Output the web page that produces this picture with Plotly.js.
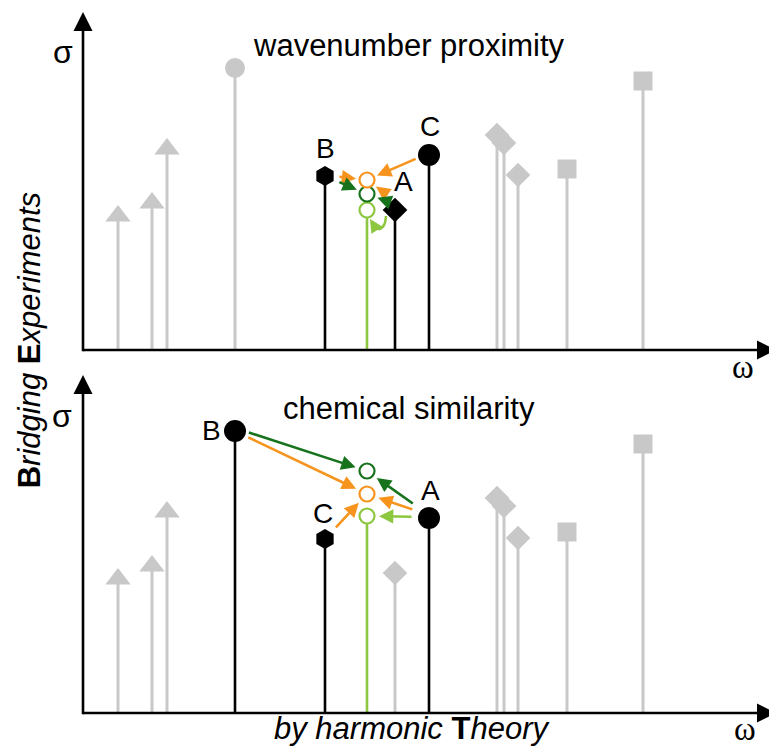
<!DOCTYPE html>
<html><head><meta charset="utf-8">
<script src="https://cdn.plot.ly/plotly-3.0.1.min.js"></script>
<style>html,body{margin:0;padding:0;background:#fff}</style>
</head><body><div id="chart" style="width:769px;height:746px"></div>
<script>
// Experimental peaks (ω = wavenumber, σ = intensity), identical in both panels
const triOmega = [35, 69, 84];
const triSigma = [134, 147, 201];
const pk1Omega = 152, pk1Sigma = 282;   // grey circle (top) / B (bottom)
const pk2Omega = 242, pk2Sigma = 174;   // B (top) / C (bottom), hexagon
const pk3Omega = 312, pk3Sigma = 140;   // A (top) / grey (bottom), diamond
const pk4Omega = 346, pk4Sigma = 195;   // C (top) / A (bottom), circle
const gDiaOmega = [414, 421, 435];
const gDiaSigma = [215, 207, 175];
const sqOmega = [484, 560];
const sqSigma = [181, 269];

// Theoretical peak (harmonic) and its candidate positions
const theoryOmega = 284;
const theoryTopSigma = [140, 156, 170];   // light green, dark green, orange
const theoryBotSigma = [197, 242, 219];   // light green, dark green, orange

const topLabels = ['B', 'A', 'C'];
const botLabels = ['B', 'C', 'A'];
const panelTitles = ['wavenumber proximity', 'chemical similarity'];

const GREY = '#c8c8c8', BLACK = '#000000';
const ORANGE = '#f7941d', DGREEN = '#17721c', LGREEN = '#8dc63f';
const FONT = 'Arial, "Liberation Sans", sans-serif';
const SERIF = '"Liberation Serif", "Times New Roman", serif';

function stems(xs, ys) {
  const x = [], y = [];
  xs.forEach((v, i) => { x.push(v, v, null); y.push(0, ys[i], null); });
  return {x, y};
}
const traces = [];
function stemTrace(xs, ys, color, width, ax) {
  const s = stems(xs, ys);
  traces.push({type: 'scatter', mode: 'lines', x: s.x, y: s.y, xaxis: ax[0], yaxis: ax[1],
    line: {color, width}, hoverinfo: 'skip', showlegend: false});
}
function markTrace(xs, ys, symbol, size, color, ax, open) {
  traces.push({type: 'scatter', mode: 'markers', x: xs, y: ys, xaxis: ax[0], yaxis: ax[1],
    cliponaxis: false, showlegend: false, hoverinfo: 'skip',
    marker: open ? {symbol, size, color: '#ffffff', line: {color, width: 2.2}}
                 : {symbol, size, color, line: {width: 0}}});
}

// ---------- top panel ----------
const A1 = ['x', 'y'];
stemTrace(triOmega.concat([pk1Omega], gDiaOmega, sqOmega), triSigma.concat([pk1Sigma], gDiaSigma, sqSigma), GREY, 3, A1);
stemTrace([pk2Omega, pk3Omega, pk4Omega], [pk2Sigma, pk3Sigma, pk4Sigma], BLACK, 2.6, A1);
stemTrace([theoryOmega], [theoryTopSigma[0]], LGREEN, 2.6, A1);
markTrace(triOmega, triSigma, 'triangle-up', 22, GREY, A1);
markTrace([pk1Omega], [pk1Sigma], 'circle', 20, GREY, A1);
markTrace(gDiaOmega, gDiaSigma, 'diamond', 19, GREY, A1);
markTrace(sqOmega, sqSigma, 'square', 19, GREY, A1);
markTrace([pk2Omega], [pk2Sigma], 'hexagon', 20, BLACK, A1);
markTrace([pk3Omega], [pk3Sigma], 'diamond', 19, BLACK, A1);
markTrace([pk4Omega], [pk4Sigma], 'circle', 22, BLACK, A1);
// curved light-green hook from A back up to the light-green theory circle
traces.push({type: 'scatter', mode: 'lines', xaxis: 'x', yaxis: 'y', hoverinfo: 'skip', showlegend: false,
  x: [pk3Omega - 9, pk3Omega - 11, pk3Omega - 16, pk3Omega - 20],
  y: [pk3Sigma - 6, pk3Sigma - 15, pk3Sigma - 19, pk3Sigma - 17],
  line: {color: LGREEN, width: 2.6, shape: 'spline'}});
markTrace([theoryOmega, theoryOmega, theoryOmega], theoryTopSigma, 'circle', 15, LGREEN, A1, true);
traces[traces.length - 1].marker.line.color = [LGREEN, DGREEN, ORANGE];

// ---------- bottom panel ----------
const A2 = ['x2', 'y2'];
stemTrace(triOmega.concat([pk3Omega], gDiaOmega, sqOmega), triSigma.concat([pk3Sigma], gDiaSigma, sqSigma), GREY, 3, A2);
stemTrace([pk1Omega, pk2Omega, pk4Omega], [pk1Sigma, pk2Sigma, pk4Sigma], BLACK, 2.6, A2);
stemTrace([theoryOmega], [theoryBotSigma[0]], LGREEN, 2.6, A2);
markTrace(triOmega, triSigma, 'triangle-up', 22, GREY, A2);
markTrace([pk3Omega], [pk3Sigma], 'diamond', 19, GREY, A2);
markTrace(gDiaOmega, gDiaSigma, 'diamond', 19, GREY, A2);
markTrace(sqOmega, sqSigma, 'square', 19, GREY, A2);
markTrace([pk1Omega], [pk1Sigma], 'circle', 22, BLACK, A2);
markTrace([pk2Omega], [pk2Sigma], 'hexagon', 20, BLACK, A2);
markTrace([pk4Omega], [pk4Sigma], 'circle', 22, BLACK, A2);
markTrace([theoryOmega, theoryOmega, theoryOmega], theoryBotSigma, 'circle', 15, LGREEN, A2, true);
traces[traces.length - 1].marker.line.color = [LGREEN, DGREEN, ORANGE];

// ---------- axes drawn as arrows ----------
const shapes = [];
[['x', 'y'], ['x2', 'y2']].forEach(([xr, yr]) => {
  shapes.push({type: 'line', xref: xr, yref: yr, x0: 0, y0: 0, x1: 680, y1: 0, line: {color: BLACK, width: 2.6}});
  shapes.push({type: 'line', xref: xr, yref: yr, x0: 0, y0: -1.3, x1: 0, y1: 322, line: {color: BLACK, width: 2.6}});
  shapes.push({type: 'path', xref: xr, yref: yr, path: 'M -9.5,319 L 9.5,319 L 0,338 Z', fillcolor: BLACK, line: {width: 0}});
  shapes.push({type: 'path', xref: xr, yref: yr, path: 'M 674,-9.5 L 674,9.5 L 693,0 Z', fillcolor: BLACK, line: {width: 0}});
});

// ---------- arrows and labels ----------
const annotations = [];
function arrow(xr, yr, fx, fy, tx, ty, color, dy, sso, so) {
  annotations.push({xref: xr, yref: yr, axref: xr, ayref: yr, x: tx, y: ty, ax: fx, ay: fy - dy,
    text: '', showarrow: true, arrowhead: 2, arrowsize: 1.1, arrowwidth: 2.6, arrowcolor: color,
    standoff: so, startstandoff: sso});
}
const [tL, tD, tO] = theoryTopSigma;
arrow('x', 'y', pk2Omega, pk2Sigma, theoryOmega, tO, ORANGE, -1, 13, 11);
arrow('x', 'y', pk2Omega, pk2Sigma, theoryOmega, tD, DGREEN, 0, 14, 11);
arrow('x', 'y', pk4Omega, pk4Sigma, theoryOmega, tO, ORANGE, -2, 13, 11);
arrow('x', 'y', pk3Omega, pk3Sigma, theoryOmega, tO, ORANGE, -10, 7, 11);
arrow('x', 'y', pk3Omega, pk3Sigma, theoryOmega, tD, DGREEN, -6, 6, 11);
// head of the curved hook, pointing up-left toward the light-green circle
annotations.push({xref: 'x', yref: 'y', axref: 'x', ayref: 'y', x: pk3Omega - 25, y: pk3Sigma - 9,
  ax: pk3Omega - 20, ay: pk3Sigma - 17, text: '', showarrow: true, arrowhead: 2, arrowsize: 1.1,
  arrowwidth: 2.4, arrowcolor: LGREEN, standoff: 0});

const [bL, bD, bO] = theoryBotSigma;
arrow('x2', 'y2', pk1Omega, pk1Sigma, theoryOmega, bD, DGREEN, -3, 13, 12);
arrow('x2', 'y2', pk1Omega, pk1Sigma, theoryOmega, bO, ORANGE, 0, 13, 12);
arrow('x2', 'y2', pk2Omega, pk2Sigma, theoryOmega, bO, ORANGE, 0, 14, 12);
arrow('x2', 'y2', pk4Omega, pk4Sigma, theoryOmega, bD, DGREEN, -3, 18, 12);
arrow('x2', 'y2', pk4Omega, pk4Sigma, theoryOmega, bO, ORANGE, -3, 16, 12);
arrow('x2', 'y2', pk4Omega, pk4Sigma, theoryOmega, bL, LGREEN, -1, 16, 12);

function label(xr, yr, x, y, text, xs, ys) {
  annotations.push({xref: xr, yref: yr, x, y, text, showarrow: false, xshift: xs, yshift: ys,
    xanchor: 'center', yanchor: 'middle', font: {family: FONT, size: 28, color: BLACK}});
}
label('x', 'y', pk2Omega, pk2Sigma, topLabels[0], 0, 28);
label('x', 'y', pk3Omega, pk3Sigma, topLabels[1], 8, 29);
label('x', 'y', pk4Omega, pk4Sigma, topLabels[2], 1, 29);
label('x2', 'y2', pk1Omega, pk1Sigma, botLabels[0], -24, 0);
label('x2', 'y2', pk2Omega, pk2Sigma, botLabels[1], -2, 25);
label('x2', 'y2', pk4Omega, pk4Sigma, botLabels[2], 1, 27);

function ptext(x, y, text, size, family, angle) {
  annotations.push({xref: 'paper', yref: 'paper', x, y, text, showarrow: false, textangle: angle || 0,
    xanchor: 'center', yanchor: 'middle', font: {family: family || FONT, size, color: BLACK}});
}
ptext(0.485, 0.943, panelTitles[0], 31);
ptext(0.485, 0.4387, panelTitles[1], 31);
ptext(-0.01, 0.9345, 'σ', 32);
ptext(-0.011, 0.428, 'σ', 32);
ptext(0.963, 0.4958, 'ω', 33, SERIF);
ptext(0.965, -0.008, 'ω', 33, SERIF);
ptext(0.489, -0.007, '<i>by harmonic </i><b>T</b><i>heory</i>', 31);
ptext(-0.0587, 0.533, '<b>B</b><i>ridging</i> <b>E</b><i>xperiments</i>', 31, FONT, -90);

const ax = {visible: false, showgrid: false, zeroline: false, fixedrange: true};
const layout = {
  width: 769, height: 746,
  margin: {l: 70, r: 0, t: 5, b: 23},
  paper_bgcolor: '#ffffff', plot_bgcolor: 'rgba(0,0,0,0)',
  showlegend: false,
  xaxis: Object.assign({}, ax, {range: [-13, 686], domain: [0, 1], anchor: 'y'}),
  yaxis: Object.assign({}, ax, {range: [-10, 345], domain: [0.50557, 1], anchor: 'x'}),
  xaxis2: Object.assign({}, ax, {range: [-13, 686], domain: [0, 1], anchor: 'y2'}),
  yaxis2: Object.assign({}, ax, {range: [-10, 345], domain: [0, 0.49443], anchor: 'x2'}),
  shapes, annotations
};
Plotly.newPlot('chart', traces, layout, {staticPlot: true, displayModeBar: false});
</script></body></html>
